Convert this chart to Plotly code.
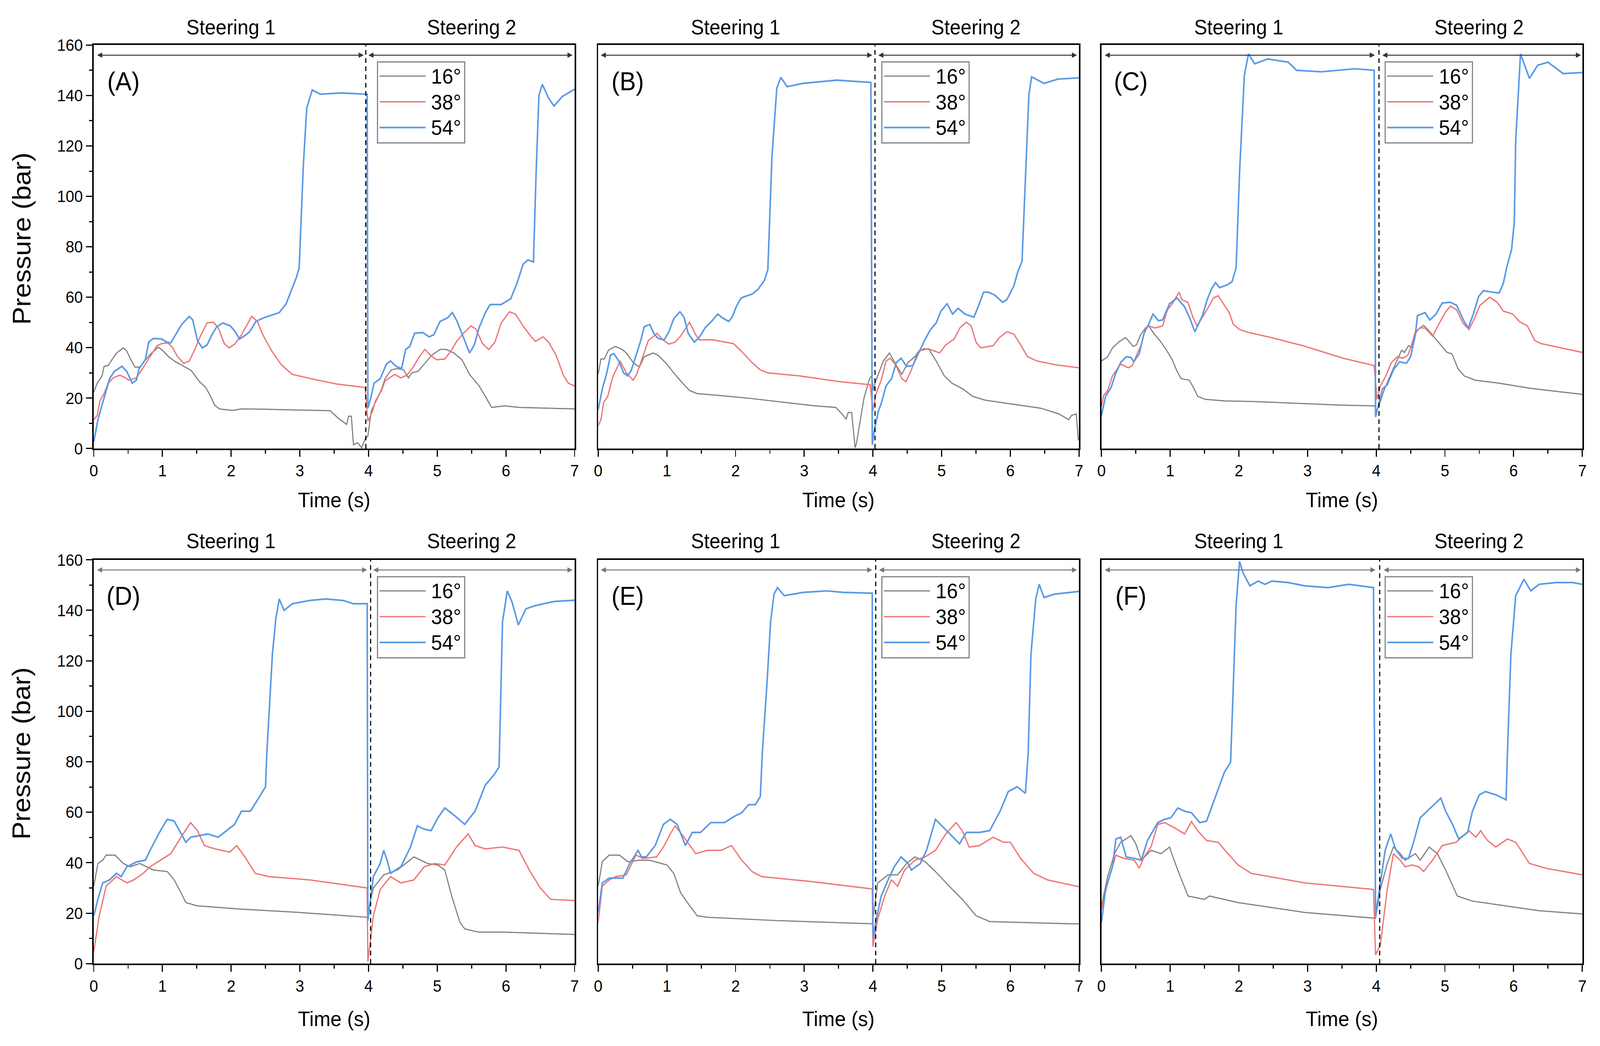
import plotly.graph_objects as go

# ---------------- data ----------------
SERIES_NAMES = ["16°", "38°", "54°"]
PANEL_LABELS = ["(A)", "(B)", "(C)", "(D)", "(E)", "(F)"]
STEP_TITLES = ["Steering 1", "Steering 2"]
X_TICKS = [0, 1, 2, 3, 4, 5, 6, 7]
Y_TICKS = [0, 20, 40, 60, 80, 100, 120, 140, 160]

# Panel A
A16_t = [0,0.05,0.12,0.15,0.21,0.27,0.34,0.43,0.48,0.54,0.60,0.67,0.74,0.83,0.94,1.01,1.09,1.19,1.31,1.42,1.54,1.63,1.70,1.76,1.83,2.02,2.15,2.47,2.93,3.44,3.56,3.68,3.71,3.75,3.78,3.84,3.90,3.95,3.99,4.01,4.04,4.10,4.19,4.24,4.33,4.42,4.51,4.58,4.63,4.72,4.83,4.92,5.04,5.13,5.24,5.36,5.47,5.61,5.70,5.79,5.98,6.20,7.0]
A16_p = [22.4,25.9,28.8,32.6,32.9,35.5,38.1,39.9,38.7,35.2,32.3,32.3,34.7,37.6,40.2,38.7,36.4,34.4,32.6,30.9,26.5,24.2,20.7,17.2,15.7,15.1,15.7,15.6,15.3,15.0,12.0,9.6,12.8,12.8,1.5,2.3,0.3,3.8,5.0,9.0,14.9,18.3,23.6,27.7,31.2,31.7,31.2,28.0,30.0,30.6,34.1,37.0,39.3,39.3,37.9,35.2,29.4,24.8,20.7,16.3,16.9,16.3,15.7]
A38_t = [0,0.05,0.09,0.15,0.21,0.28,0.38,0.45,0.51,0.62,0.71,0.83,0.92,0.99,1.08,1.15,1.22,1.31,1.39,1.47,1.56,1.65,1.74,1.81,1.90,1.97,2.06,2.15,2.25,2.30,2.38,2.47,2.59,2.73,2.89,3.16,3.53,3.95,3.99,4.06,4.10,4.19,4.24,4.38,4.47,4.56,4.65,4.74,4.82,4.90,4.99,5.11,5.20,5.29,5.38,5.49,5.56,5.66,5.75,5.84,5.93,6.05,6.14,6.25,6.36,6.43,6.54,6.62,6.73,6.84,6.91,7.0]
A38_p = [11.4,13.1,18.9,21.8,25.9,28.0,29.1,28.2,27.1,28.0,31.7,37.0,40.8,41.6,41.9,39.9,36.4,33.8,34.7,39.3,45.1,49.8,50.1,48.0,41.6,39.9,41.6,45.1,49.8,52.4,50.4,44.6,38.7,33.2,29.4,27.7,25.6,24.2,10.8,14.9,18.9,23.0,26.8,29.4,28.0,29.1,32.3,36.4,39.3,37.0,35.2,35.5,38.7,42.8,45.7,48.6,47.5,41.6,39.3,42.2,49.8,54.2,53.3,48.6,44.6,42.5,44.3,42.2,37.0,28.8,25.9,24.8]
A54_t = [0,0.06,0.12,0.19,0.23,0.30,0.41,0.48,0.56,0.62,0.66,0.75,0.80,0.87,0.99,1.06,1.12,1.19,1.28,1.39,1.44,1.51,1.58,1.65,1.72,1.79,1.88,1.99,2.06,2.12,2.20,2.27,2.36,2.47,2.61,2.70,2.80,2.89,2.95,2.99,3.05,3.10,3.18,3.30,3.60,3.98,3.99,4.03,4.08,4.17,4.26,4.32,4.40,4.48,4.54,4.60,4.67,4.79,4.88,4.95,5.04,5.15,5.22,5.29,5.38,5.47,5.54,5.61,5.70,5.77,5.93,6.07,6.16,6.25,6.32,6.40,6.44,6.48,6.53,6.62,6.70,6.82,7.0]
A54_p = [2.6,11.4,17.2,24.2,27.7,30.6,32.6,30.6,25.9,27.1,31.7,35.2,42.2,43.7,43.4,42.2,41.9,45.1,49.2,52.4,51.0,42.8,39.9,41.1,45.1,48.3,49.8,48.6,46.3,43.4,44.8,46.3,50.4,51.8,53.0,53.9,57.4,63.8,67.9,71.6,111.8,135.0,142.2,140.5,141.0,140.5,16.0,19.8,25.9,27.7,33.5,34.7,32.6,31.7,39.3,40.5,45.7,46.0,44.3,45.1,50.4,51.8,53.9,50.4,44.0,37.9,41.1,48.0,53.9,57.1,57.1,59.4,65.5,73.1,74.8,74.0,110.0,140.0,144.4,139.0,135.8,139.6,142.5]

# Panel B
B16_t = [0,0.04,0.09,0.15,0.25,0.35,0.41,0.51,0.60,0.67,0.80,0.87,0.99,1.10,1.21,1.33,1.44,1.79,2.24,2.70,3.16,3.46,3.55,3.61,3.64,3.69,3.74,3.76,3.87,3.95,3.98,4.01,4.03,4.15,4.24,4.33,4.42,4.51,4.61,4.67,4.81,4.92,5.04,5.15,5.31,5.45,5.63,5.98,6.44,6.71,6.85,6.89,6.96,6.99]
B16_p = [29.4,35.5,35.5,39.0,40.5,39.3,37.9,34.1,32.3,36.4,37.9,37.0,33.8,30.0,26.5,23.0,21.8,21.0,19.8,18.3,16.9,16.3,13.7,11.6,14.3,14.3,0.3,2.0,20.1,27.7,28.8,23.0,25.9,34.7,37.9,33.5,29.4,34.1,36.4,38.7,39.6,34.7,28.8,25.9,23.6,20.7,19.2,17.8,16.0,13.7,11.4,13.1,13.7,3.2]
B38_t = [0,0.04,0.08,0.14,0.21,0.32,0.41,0.51,0.56,0.64,0.73,0.86,0.94,1.03,1.12,1.20,1.33,1.42,1.47,1.67,1.97,2.08,2.24,2.36,2.47,2.93,3.52,3.96,4.00,4.04,4.12,4.19,4.25,4.33,4.42,4.48,4.56,4.65,4.74,4.83,4.97,5.06,5.18,5.27,5.36,5.43,5.50,5.57,5.75,5.84,5.95,6.05,6.14,6.25,6.39,6.66,7.0]
B38_p = [9.0,11.4,18.3,20.7,28.2,34.7,30.0,27.1,29.4,35.8,42.8,45.7,43.1,41.4,42.2,44.6,50.1,45.1,43.1,43.1,41.6,38.7,34.1,31.2,30.0,28.8,26.5,25.3,14.9,21.3,27.1,34.7,35.8,33.2,27.7,26.5,31.2,38.1,39.6,39.3,37.9,41.1,43.4,48.0,50.1,48.6,42.2,39.9,40.8,44.0,46.3,45.4,41.6,36.4,34.7,33.2,32.0]
B54_t = [0,0.06,0.12,0.18,0.23,0.30,0.37,0.43,0.48,0.55,0.62,0.67,0.75,0.81,0.87,0.96,1.03,1.10,1.19,1.25,1.31,1.40,1.47,1.56,1.65,1.74,1.81,1.90,1.95,2.01,2.08,2.17,2.24,2.33,2.42,2.47,2.53,2.60,2.66,2.75,2.98,3.47,3.97,3.99,4.02,4.08,4.12,4.19,4.27,4.34,4.41,4.49,4.58,4.65,4.74,4.83,4.92,4.99,5.08,5.16,5.24,5.34,5.47,5.54,5.61,5.68,5.77,5.89,5.95,6.05,6.11,6.17,6.22,6.27,6.31,6.49,6.69,7.0]
B54_p = [15.4,23.6,29.4,37.0,37.6,34.7,30.0,28.8,30.9,37.0,42.8,48.3,49.2,45.7,43.7,43.1,46.3,51.5,54.2,52.1,45.7,42.2,44.0,48.0,50.4,53.3,51.8,50.4,52.1,56.2,59.7,60.6,61.2,63.2,66.7,71.0,115.7,142.9,147.2,143.5,144.8,146.1,145.2,1.5,7.3,14.9,17.8,24.8,27.7,34.1,35.8,32.6,32.9,37.0,42.2,46.9,49.8,54.5,57.4,53.3,55.6,53.3,52.1,56.8,62.0,62.0,60.9,58.0,59.1,64.4,70.2,74.2,109.2,140.3,147.4,144.8,146.5,147.0]

# Panel C
C16_t = [0,0.09,0.16,0.25,0.35,0.41,0.46,0.51,0.57,0.64,0.69,0.76,0.85,0.94,1.03,1.10,1.16,1.28,1.35,1.40,1.51,1.79,2.24,2.70,3.52,3.98,4.00,4.05,4.12,4.23,4.30,4.37,4.41,4.47,4.52,4.57,4.62,4.69,4.76,4.85,4.94,5.03,5.10,5.19,5.28,5.44,5.79,6.24,6.70,7.0]
C16_p = [34.7,36.4,39.9,42.2,44.0,42.2,40.5,41.1,45.1,47.8,48.6,45.7,42.8,39.3,35.2,30.6,27.7,27.1,23.6,20.7,19.5,18.9,18.6,18.1,17.2,16.9,14.9,17.8,23.6,30.6,34.7,39.0,38.1,40.8,39.9,45.7,47.5,48.9,46.9,44.0,41.1,38.1,37.6,31.7,28.8,27.1,25.9,23.9,22.4,21.5]
C38_t = [0,0.03,0.09,0.16,0.28,0.39,0.45,0.51,0.57,0.64,0.69,0.78,0.89,0.96,1.03,1.13,1.17,1.26,1.33,1.39,1.47,1.56,1.63,1.70,1.79,1.86,1.92,2.01,2.15,2.47,2.93,3.52,3.97,4.01,4.06,4.14,4.22,4.31,4.39,4.46,4.50,4.57,4.64,4.71,4.82,4.92,5.01,5.08,5.17,5.26,5.35,5.42,5.51,5.65,5.76,5.85,5.99,6.08,6.20,6.31,6.40,6.70,7.0]
C38_p = [16.6,21.0,23.0,28.8,33.5,32.0,32.9,37.0,40.5,47.5,48.6,47.8,48.6,55.0,57.4,62.0,59.1,57.9,52.1,48.6,52.1,56.2,59.7,60.6,56.8,53.9,49.2,47.2,46.0,44.0,40.8,35.8,32.9,19.5,24.8,28.8,34.1,36.4,35.8,37.0,39.9,46.3,47.8,47.8,44.6,49.8,54.2,56.5,55.0,49.8,47.2,51.0,56.8,60.0,58.0,54.5,53.3,50.4,48.6,42.8,41.6,39.9,38.1]
C54_t = [0,0.06,0.14,0.21,0.28,0.36,0.43,0.47,0.55,0.62,0.69,0.75,0.83,0.89,0.99,1.10,1.21,1.28,1.36,1.47,1.54,1.60,1.66,1.72,1.83,1.90,1.96,2.01,2.08,2.14,2.23,2.42,2.72,2.84,3.20,3.69,3.97,3.99,4.01,4.09,4.16,4.25,4.34,4.44,4.50,4.57,4.60,4.71,4.78,4.87,4.96,5.08,5.17,5.28,5.34,5.42,5.49,5.56,5.69,5.79,5.85,5.90,5.97,6.01,6.03,6.10,6.23,6.35,6.50,6.72,7.0]
C54_p = [13.1,20.7,24.2,30.0,34.1,36.4,36.1,34.4,37.6,45.7,49.5,53.3,50.7,51.0,57.4,59.7,56.2,52.1,46.3,52.7,59.1,63.2,65.8,63.8,64.9,66.1,71.6,109.2,148.0,156.5,152.6,154.5,153.2,150.0,149.4,150.6,150.0,12.5,14.9,23.6,25.3,31.2,34.4,33.8,36.4,45.1,52.7,53.9,51.0,53.3,57.7,58.0,56.8,50.4,47.8,53.9,60.3,62.6,62.0,61.7,65.5,71.9,78.9,90.0,122.0,156.5,146.8,152.0,153.2,148.7,149.1]

# Panel D
D16_t = [0,0.06,0.13,0.18,0.31,0.43,0.53,0.67,0.87,1.07,1.17,1.27,1.34,1.51,2.15,2.99,3.98,4.00,4.07,4.22,4.42,4.66,4.86,5.01,5.11,5.21,5.33,5.40,5.60,5.95,7.0]
D16_p = [30.7,39.7,41.0,43.0,43.0,39.7,38.4,39.7,37.1,36.5,33.2,28.1,24.2,22.9,21.6,20.3,18.4,21.6,30.0,35.2,37.1,42.3,39.7,39.1,37.1,26.8,16.4,13.8,12.5,12.5,11.6]
D38_t = [0,0.08,0.18,0.33,0.48,0.58,0.72,0.82,0.97,1.12,1.27,1.41,1.51,1.61,1.76,1.98,2.08,2.20,2.35,2.55,3.14,3.98,3.99,4.07,4.17,4.32,4.47,4.66,4.81,4.96,5.11,5.28,5.45,5.55,5.70,5.95,6.19,6.34,6.50,6.65,7.0]
D38_p = [4.8,19.0,30.7,34.5,32.0,33.2,35.8,38.4,41.0,43.6,50.1,55.9,52.7,46.8,45.5,44.2,46.8,42.3,35.8,34.5,33.2,30.0,0.9,19.0,29.4,34.5,32.0,33.2,38.4,39.7,39.1,46.2,51.4,46.8,45.5,46.2,44.9,37.1,30.0,25.5,25.0]
D54_t = [0,0.06,0.13,0.23,0.33,0.40,0.48,0.63,0.75,0.82,0.97,1.07,1.17,1.27,1.34,1.41,1.66,1.81,1.96,2.05,2.15,2.28,2.37,2.50,2.52,2.60,2.65,2.70,2.77,2.89,3.14,3.38,3.63,3.78,3.98,3.99,4.01,4.07,4.17,4.22,4.27,4.32,4.47,4.61,4.71,4.81,4.91,5.01,5.11,5.26,5.40,5.55,5.70,5.82,5.90,5.95,6.02,6.09,6.18,6.29,6.43,6.70,7.0]
D54_p = [19.0,25.5,32.0,33.2,35.8,34.5,38.4,40.4,41.0,44.9,52.7,57.2,56.5,51.4,48.1,50.1,51.4,50.1,53.3,55.2,60.4,60.4,64.3,70.1,83.7,122.5,136.7,144.5,140.0,142.6,143.9,144.5,143.9,142.6,142.6,17.0,21.6,34.5,39.7,44.9,41.0,35.8,38.4,46.2,54.6,53.3,52.7,57.8,61.7,58.5,55.2,60.4,70.8,74.6,77.9,135.4,147.7,143.2,134.2,140.6,141.9,143.5,144.0]

# Panel E
E16_t = [0,0.06,0.16,0.31,0.43,0.60,0.75,1.00,1.10,1.20,1.30,1.44,1.59,2.58,3.99,4.02,4.07,4.22,4.36,4.49,4.61,4.76,4.91,5.11,5.30,5.50,5.70,6.88,7.0]
E16_p = [30.7,40.4,43.0,43.0,40.4,41.0,41.0,39.1,35.8,28.1,24.2,19.0,18.4,17.1,15.8,21.6,32.0,35.2,35.2,39.7,42.3,40.4,36.5,30.7,25.5,19.0,16.7,15.8,15.8]
E38_t = [0,0.06,0.16,0.26,0.41,0.55,0.65,0.85,0.95,1.05,1.12,1.25,1.42,1.59,1.79,1.94,2.09,2.24,2.38,3.08,3.99,4.00,4.07,4.17,4.27,4.36,4.46,4.61,4.76,4.91,5.06,5.21,5.30,5.40,5.55,5.75,5.90,6.00,6.15,6.34,6.54,7.0]
E38_p = [16.4,30.7,33.2,34.5,35.2,43.0,41.7,42.3,46.2,51.4,54.6,50.1,43.6,44.9,44.9,46.8,41.0,36.5,34.5,32.6,29.6,6.7,17.7,26.8,33.2,30.7,37.1,41.0,42.3,44.9,51.4,55.9,52.7,46.2,46.8,50.1,48.1,48.1,41.7,35.8,33.2,30.5]
E54_t = [0,0.06,0.16,0.36,0.46,0.58,0.63,0.70,0.83,0.95,1.05,1.15,1.27,1.37,1.49,1.64,1.84,1.99,2.09,2.19,2.29,2.36,2.39,2.46,2.51,2.56,2.61,2.71,2.98,3.33,3.57,3.99,4.00,4.04,4.12,4.22,4.31,4.41,4.51,4.56,4.69,4.78,4.91,5.03,5.16,5.26,5.36,5.55,5.70,5.85,5.97,6.10,6.22,6.26,6.30,6.37,6.42,6.49,6.64,7.0]
E54_p = [20.3,32.0,33.9,33.9,39.7,44.9,42.3,42.3,46.8,55.2,57.2,55.2,46.8,52.0,52.0,55.9,55.9,58.5,59.8,63.0,63.0,66.2,83.7,112.2,135.4,146.4,149.0,145.8,147.1,147.7,147.1,146.8,10.0,16.4,26.8,33.2,38.4,42.3,39.7,37.1,39.7,44.9,57.2,53.9,50.1,47.5,52.0,52.0,52.7,60.4,68.2,70.1,67.5,83.7,122.5,144.5,150.3,145.1,146.4,147.5]

# Panel F
F16_t = [0,0.09,0.19,0.28,0.43,0.50,0.58,0.72,0.87,0.99,1.11,1.26,1.50,1.57,1.99,2.96,3.99,4.06,4.16,4.25,4.35,4.42,4.57,4.64,4.77,4.89,5.01,5.18,5.40,5.89,6.37,7.0]
F16_p = [22.9,34.5,43.6,48.1,50.7,47.5,41.0,44.9,43.6,46.2,37.1,26.8,25.5,26.8,24.2,20.3,18.0,29.4,39.7,46.2,43.6,41.0,43.6,41.0,46.2,43.6,37.1,26.8,24.8,22.9,21.0,19.7]
F38_t = [0,0.09,0.21,0.33,0.48,0.55,0.62,0.72,0.82,0.92,1.06,1.21,1.31,1.40,1.53,1.70,1.84,1.99,2.18,2.96,3.96,3.99,4.06,4.16,4.25,4.35,4.42,4.52,4.62,4.69,4.82,4.96,5.16,5.35,5.45,5.52,5.62,5.74,5.91,6.03,6.23,6.47,7.0]
F38_p = [21.6,32.0,43.0,41.7,41.0,37.8,42.3,46.2,55.2,55.9,53.9,51.4,56.3,52.7,48.8,48.1,43.6,39.1,35.8,32.0,29.4,3.5,7.4,29.4,43.6,41.0,38.4,39.1,38.4,36.5,41.0,46.8,48.1,52.7,50.1,52.7,48.8,46.2,49.4,48.1,39.7,37.8,35.2]
F54_t = [0,0.06,0.16,0.21,0.28,0.36,0.48,0.58,0.67,0.82,0.92,1.01,1.11,1.21,1.31,1.43,1.53,1.65,1.79,1.88,1.92,1.96,2.01,2.06,2.16,2.28,2.38,2.48,2.72,2.96,3.30,3.60,3.96,3.99,4.06,4.13,4.21,4.28,4.38,4.47,4.55,4.64,4.79,4.94,5.01,5.11,5.20,5.33,5.40,5.50,5.59,5.74,5.89,5.91,5.96,6.03,6.15,6.25,6.37,6.62,6.86,7.0]
F54_p = [16.4,29.4,38.4,49.4,50.1,42.3,41.7,41.0,48.8,55.9,57.2,57.8,61.7,60.4,59.8,55.9,56.5,65.6,75.9,79.8,109.6,141.9,159.4,154.9,149.7,151.6,150.3,151.6,151.0,149.7,149.0,150.3,149.0,19.0,32.0,44.9,51.4,45.5,41.7,41.7,48.8,57.8,61.7,65.6,60.4,55.2,49.4,52.0,60.4,66.9,68.2,66.9,64.9,83.7,122.5,145.8,152.3,147.7,150.3,151.0,151.0,150.3]

# steering-change time (dashed line) and the two double arrows of every panel
DIVIDER_T = [3.96, 4.03, 4.04, 4.03, 4.04, 4.05]
ARROW1 = [(0.04, 3.93), (0.03, 3.99), (0.04, 3.98), (0.04, 3.98), (0.03, 3.99), (0.04, 3.99)]
ARROW2 = [(3.99, 6.97), (4.07, 6.97), (4.08, 6.98), (4.06, 6.97), (4.08, 6.97), (4.10, 6.98)]

# ---------------- styling ----------------
FONT = "Liberation Sans, Arial, Helvetica, sans-serif"
COLORS = ["#808080", "#f07474", "#5a9ae6"]
WIDTHS = [3.0, 3.4, 4.2]
W, H = 4328, 2677
COL_PX = [(243, 1551), (1615, 2923), (2984, 4292)]
ROW_PX = [(94, 1145), (1435, 2487)]

panels = [
    [(A16_t, A16_p), (A38_t, A38_p), (A54_t, A54_p)],
    [(B16_t, B16_p), (B38_t, B38_p), (B54_t, B54_p)],
    [(C16_t, C16_p), (C38_t, C38_p), (C54_t, C54_p)],
    [(D16_t, D16_p), (D38_t, D38_p), (D54_t, D54_p)],
    [(E16_t, E16_p), (E38_t, E38_p), (E54_t, E54_p)],
    [(F16_t, F16_p), (F38_t, F38_p), (F54_t, F54_p)],
]
for pi, pan in enumerate(panels):
    for si, (t, p) in enumerate(pan):
        assert len(t) == len(p), (pi, si, len(t), len(p))

fig = go.Figure()
layout = dict(
    width=W, height=H, autosize=False,
    margin=dict(l=0, r=0, t=0, b=0),
    paper_bgcolor="white", plot_bgcolor="white",
    showlegend=False, font=dict(family=FONT, color="black"),
)
annotations = []
shapes = []

for i, pan in enumerate(panels):
    r, c = divmod(i, 3)
    n = "" if i == 0 else str(i + 1)
    xr, yr = "x" + n, "y" + n
    x0, x1 = COL_PX[c]
    y0, y1 = ROW_PX[r]
    for si, (t, p) in enumerate(pan):
        fig.add_trace(go.Scatter(
            x=t, y=p, mode="lines", name=SERIES_NAMES[si],
            line=dict(color=COLORS[si], width=WIDTHS[si]),
            xaxis=xr, yaxis=yr, hoverinfo="skip"))
    left = (c == 0)
    layout["xaxis" + n] = dict(
        domain=[x0 / W, x1 / W], anchor=yr, range=[0, 7],
        tickvals=X_TICKS, ticks="outside", ticklen=17, tickwidth=3, tickcolor="black",
        minor=dict(dtick=0.5, tick0=0, ticks="outside", ticklen=9, tickwidth=3, tickcolor="black"),
        showline=True, linecolor="black", linewidth=4, mirror=True,
        showgrid=False, zeroline=False,
        tickfont=dict(size=42, family=FONT, color="black"))
    layout["yaxis" + n] = dict(
        domain=[1 - y1 / H, 1 - y0 / H], anchor=xr, range=[0, 160],
        tickvals=Y_TICKS if left else [], showticklabels=left,
        ticks="outside" if left else "", ticklen=17, tickwidth=3, tickcolor="black",
        minor=dict(dtick=10, tick0=0, ticks="outside" if left else "", ticklen=9, tickwidth=3,
                   tickcolor="black"),
        showline=True, linecolor="black", linewidth=4, mirror=True,
        showgrid=False, zeroline=False,
        tickfont=dict(size=42, family=FONT, color="black"))

    # dashed divider
    d = DIVIDER_T[i]
    shapes.append(dict(type="line", xref=xr, yref=yr, x0=d, x1=d, y0=0, y1=160,
                       line=dict(color="black", width=3, dash="12px,9px")))
    # double arrows
    acol = "#333333" if r == 0 else "#777777"
    for (a, b) in (ARROW1[i], ARROW2[i]):
        annotations.append(dict(x=b, y=156, ax=a, ay=156, xref=xr, yref=yr, axref=xr, ayref=yr,
                                text="", showarrow=True, arrowhead=2, arrowsize=1.1,
                                arrowwidth=2.5, arrowcolor=acol, arrowside="end+start",
                                standoff=0, startstandoff=0))
    # titles above
    ytitle = 1 - (47 if r == 0 else 1386) / H
    for k, xc in enumerate((2.0, 5.5)):
        annotations.append(dict(x=xc, y=ytitle, xref=xr, yref="paper", text=STEP_TITLES[k],
                                showarrow=False, font=dict(size=53, family=FONT, color="black"),
                                xanchor="center", yanchor="middle"))
    # x axis title
    annotations.append(dict(x=3.5, y=1 - (1278 if r == 0 else 2630) / H, xref=xr, yref="paper",
                            text="Time (s)", showarrow=False,
                            font=dict(size=54, family=FONT, color="black"),
                            xanchor="center", yanchor="middle"))
    # panel label
    annotations.append(dict(x=0.43, y=145.7, xref=xr, yref=yr, text=PANEL_LABELS[i],
                            showarrow=False, font=dict(size=66, family=FONT, color="black"),
                            xanchor="center", yanchor="middle"))
    # legend box
    shapes.append(dict(type="rect", xref=xr, yref=yr, x0=4.13, x1=5.40, y0=121.2, y1=153.3,
                       line=dict(color="#808080", width=3), fillcolor="white", layer="above"))
    for si, yy in enumerate((147.7, 137.5, 127.3)):
        shapes.append(dict(type="line", xref=xr, yref=yr, x0=4.16, x1=4.83, y0=yy, y1=yy,
                           line=dict(color=COLORS[si], width=WIDTHS[si]), layer="above"))
        annotations.append(dict(x=4.90, y=yy, xref=xr, yref=yr, text=SERIES_NAMES[si],
                                showarrow=False, font=dict(size=54, family=FONT, color="black"),
                                xanchor="left", yanchor="middle"))

# y axis titles
for yc in (598, 1939):
    annotations.append(dict(x=47 / W, y=1 - yc / H, xref="paper", yref="paper",
                            text="Pressure (bar)", textangle=-90, showarrow=False,
                            font=dict(size=69, family=FONT, color="black"),
                            xanchor="center", yanchor="middle"))

layout["annotations"] = annotations
layout["shapes"] = shapes
fig.update_layout(**layout)

# stretch the fixed-size figure so that it exactly fills the browser window
FIT_JS = """
var gd = document.getElementById('{plot_id}');
document.documentElement.style.margin = '0';
document.documentElement.style.padding = '0';
document.documentElement.style.overflow = 'hidden';
document.body.style.margin = '0';
document.body.style.padding = '0';
document.body.style.overflow = 'hidden';
function fitFigure() {
  var sx = window.innerWidth / %d;
  var sy = window.innerHeight / %d;
  gd.style.transformOrigin = '0 0';
  gd.style.transform = 'scale(' + sx + ',' + sy + ')';
}
fitFigure();
window.addEventListener('resize', fitFigure);
""" % (W, H)

fig.write_html("out.html", post_script=FIT_JS, config={"displayModeBar": False})
